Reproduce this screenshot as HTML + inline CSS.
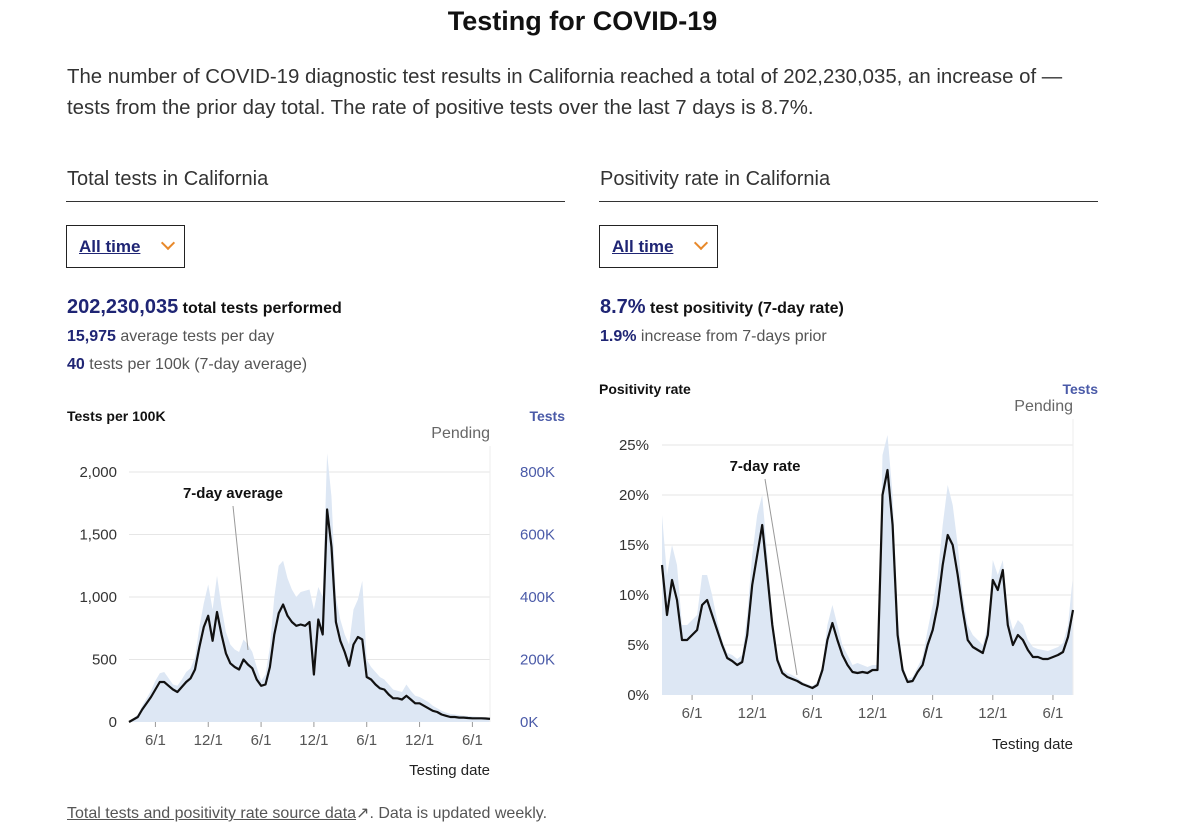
<!DOCTYPE html>
<html><head><meta charset="utf-8">
<style>
body{margin:0;width:1200px;height:830px;background:#fff;font-family:"Liberation Sans",sans-serif;color:#333;position:relative;overflow:hidden}
.abs{position:absolute;white-space:nowrap}
.navy{color:#1f2574;font-weight:bold}
.dd{position:absolute;width:119px;height:43px;border:1px solid #222;box-sizing:border-box}
.dd span{position:absolute;left:12px;top:11px;font-size:17px;font-weight:bold;color:#1f2574;text-decoration:underline}
.dd i{position:absolute;left:96px;top:12px;width:8px;height:8px;border-right:2px solid #e8892b;border-bottom:2px solid #e8892b;transform:rotate(45deg)}
</style></head><body>
<div class="abs" style="left:0;width:1165px;text-align:center;top:6px;font-size:27px;font-weight:bold;color:#111">Testing for COVID-19</div>
<div class="abs" style="left:67px;top:62px;font-size:20.4px;line-height:31px;color:#333">The number of COVID-19 diagnostic test results in California reached a total of 202,230,035, an increase of —<br>tests from the prior day total. The rate of positive tests over the last 7 days is 8.7%.</div>

<div class="abs" style="left:67px;top:168px;font-size:20px;color:#333">Total tests in California</div>
<div class="abs" style="left:66px;top:201px;width:499px;height:1px;background:#333"></div>
<div class="dd" style="left:66px;top:225px"><span>All time</span><i></i></div>
<div class="abs" style="left:67px;top:296px;font-size:16px;color:#111;font-weight:bold"><span class="navy" style="font-size:20px">202,230,035</span> total tests performed</div>
<div class="abs" style="left:67px;top:328px;font-size:16px;color:#555"><span class="navy">15,975</span> average tests per day</div>
<div class="abs" style="left:67px;top:356px;font-size:16px;color:#555"><span class="navy">40</span> tests per 100k (7-day average)</div>

<div class="abs" style="left:600px;top:168px;font-size:20px;color:#333">Positivity rate in California</div>
<div class="abs" style="left:599px;top:201px;width:499px;height:1px;background:#333"></div>
<div class="dd" style="left:599px;top:225px"><span>All time</span><i></i></div>
<div class="abs" style="left:600px;top:296px;font-size:16px;color:#111;font-weight:bold"><span class="navy" style="font-size:20px">8.7%</span> test positivity (7-day rate)</div>
<div class="abs" style="left:600px;top:328px;font-size:16px;color:#555"><span class="navy">1.9%</span> increase from 7-days prior</div>

<svg id="chart" width="1200" height="830" style="position:absolute;left:0;top:0" font-family="Liberation Sans, sans-serif"></svg>

<div class="abs" style="left:67px;top:803px;font-size:16px;color:#555"><span style="color:#555;text-decoration:underline">Total tests and positivity rate source data</span>↗. Data is updated weekly.</div>

<script>
const monthIndex = [];
for (let i = 0; i <= 82; i++) monthIndex.push(i * 0.5);
const testsLine = [0,20,40,100,150,200,260,320,320,290,260,240,280,320,350,420,600,760,850,650,880,700,550,470,440,420,500,460,430,340,290,300,440,700,870,940,850,800,770,780,770,800,380,820,700,1700,1400,800,650,560,450,620,680,660,360,340,300,270,260,220,190,190,180,210,180,150,150,130,110,90,80,60,50,40,40,35,35,32,30,30,30,28,25];
const testsBars = [5,30,60,130,190,250,330,390,400,350,300,290,340,400,430,520,760,950,1100,900,1170,920,720,620,580,560,660,620,560,440,330,380,600,1000,1250,1290,1150,1060,1000,1040,1050,1060,900,1080,1000,2150,1800,1000,820,700,620,900,980,1130,500,440,400,360,340,300,260,250,240,300,250,210,200,180,160,130,110,90,75,65,60,55,50,48,45,42,40,38,35];
const testsTicks = [0,500,1000,1500,2000];
const testsRightTicks = ["0K","200K","400K","600K","800K"];
const posLine = [13,8,11.5,9.5,5.5,5.5,6,6.5,9,9.5,8,6.5,5,3.7,3.4,3,3.3,6,11,14,17,12,7,3.5,2.2,1.8,1.6,1.4,1.1,0.9,0.7,1,2.5,5.5,7.2,5.5,4,3,2.3,2.2,2.3,2.2,2.5,2.5,20,22.5,17,6,2.5,1.3,1.4,2.3,3,5,6.5,9,13,16,15,12,8.5,5.5,4.8,4.5,4.2,6,11.5,10.5,12.5,7,5,6,5.5,4.5,3.8,3.8,3.6,3.6,3.8,4,4.3,5.8,8.5];
const posBars = [18,12,15,13,7,7,7.5,8,12,12,10,7.5,5.5,4.2,4,3.6,4,8,14,18,20,14,8,4,2.6,2.2,2,1.7,1.3,1.1,0.9,1.3,3,7,9,7,5,4,3,3.2,3,2.8,3,3,24,26,20,8,3,1.6,1.8,2.8,3.8,6.5,9,12,17,21,19,15,10,7,6,5.5,5,7,13.5,12,13.5,8.5,6.5,7.5,7,5.5,4.8,4.6,4.5,4.4,4.6,4.8,5.2,7,12];
const posTicks = [0,5,10,15,20,25];
const dateTicks = [3,9,15,21,27,33,39];
const dateLabels = ["6/1","12/1","6/1","12/1","6/1","12/1","6/1"];

const svg = document.getElementById('chart');
const NS = 'http://www.w3.org/2000/svg';
function mk(tag, attrs, parent) {
  const e = document.createElementNS(NS, tag);
  for (const k in attrs) e.setAttribute(k, attrs[k]);
  (parent || svg).appendChild(e);
  return e;
}

function drawChart(o) {
  const g = mk('g', {});
  
  
  const x = m => o.x0 + (m / 41) * (o.x1 - o.x0);
  const y = v => o.y0 - (v / o.vmax) * (o.y0 - o.yTop);
  o.ticks.forEach((t, i) => {
    if (t > 0) {
      const gl = mk('line', {x1: o.x0, x2: o.x1, y1: y(t), y2: y(t), stroke: '#e6e6e6', 'stroke-width': 1}, g);
      
      
    }
    const tl = mk('text', {x: o.labelX, y: y(t) + 5, 'text-anchor': 'end', 'font-size': 15, fill: '#333'}, g);
    tl.textContent = o.fmt(t);
    
    
    if (o.right) {
      const rl = mk('text', {x: o.x1 + 30, y: y(t) + 5, 'font-size': 15, fill: '#4a5aa8'}, g);
      rl.textContent = o.right[i];
      
      
    }
  });
  // daily tests as filled area
  let ad = 'M' + x(0) + ',' + o.y0;
  o.bars.forEach((v, i) => { ad += 'L' + x(monthIndex[i]).toFixed(1) + ',' + y(v).toFixed(1); });
  ad += 'L' + x(41) + ',' + o.y0 + 'Z';
  const area = mk('path', {d: ad, fill: '#dde7f4'}, g);
  
  
  const pl = mk('line', {x1: o.x1, x2: o.x1, y1: o.pendingY + 8, y2: o.y0, stroke: '#eeeeee', 'stroke-width': 1}, g);
  
  
  const d = o.line.map((v, i) => (i ? 'L' : 'M') + x(monthIndex[i]).toFixed(1) + ',' + y(v).toFixed(1)).join('');
  const p = mk('path', {d: d, fill: 'none', stroke: '#111', 'stroke-width': 2.2, 'stroke-linejoin': 'round'}, g);
  
  
  dateTicks.forEach((m, i) => {
    const tk = mk('line', {x1: x(m), x2: x(m), y1: o.y0, y2: o.y0 + 5, stroke: '#999'}, g);
    
    
    const tl = mk('text', {x: x(m), y: o.y0 + 23, 'text-anchor': 'middle', 'font-size': 15, fill: '#555'}, g);
    tl.textContent = dateLabels[i];
    
    
  });
  const xt = mk('text', {x: o.x1, y: o.xTitleY, 'text-anchor': 'end', 'font-size': 15, fill: '#222'}, g);
  xt.textContent = 'Testing date';
  
  
  const pt = mk('text', {x: o.x1, y: o.pendingY, 'text-anchor': 'end', 'font-size': 16, fill: '#666'}, g);
  pt.textContent = 'Pending';
  
  
  const yt = mk('text', {x: o.titleX, y: o.titleY, 'font-size': 14, 'font-weight': 'bold', fill: '#111'}, g);
  yt.textContent = o.title;
  
  
  const tt = mk('text', {x: o.testsX, y: o.titleY, 'text-anchor': 'end', 'font-size': 14, 'font-weight': 'bold', fill: '#4a5aa8'}, g);
  tt.textContent = 'Tests';
  
  
  const al = mk('line', {x1: o.annX, y1: o.annY + 8, x2: o.annX2, y2: o.annY2, stroke: '#999', 'stroke-width': 1}, g);
  
  
  const at = mk('text', {x: o.annX, y: o.annY, 'text-anchor': 'middle', 'font-size': 15, 'font-weight': 'bold', fill: '#111'}, g);
  at.textContent = o.ann;
  
  
}

drawChart({name: 'total-tests-chart', x0: 129, x1: 490, y0: 722, yTop: 472, vmax: 2000,
  ticks: testsTicks, right: testsRightTicks, fmt: t => t.toLocaleString('en-US'), labelX: 117,
  bars: testsBars, line: testsLine, pendingY: 438, xTitleY: 775, title: 'Tests per 100K', titleX: 67, titleY: 421,
  testsX: 565, ann: '7-day average', annX: 233, annY: 498, annX2: 248, annY2: 650});
drawChart({name: 'positivity-chart', x0: 662, x1: 1073, y0: 695, yTop: 445, vmax: 25,
  ticks: posTicks, right: null, fmt: t => t + '%', labelX: 649,
  bars: posBars, line: posLine, pendingY: 411, xTitleY: 749, title: 'Positivity rate', titleX: 599, titleY: 394,
  testsX: 1098, ann: '7-day rate', annX: 765, annY: 471, annX2: 797, annY2: 675});
</script>
</body></html>
